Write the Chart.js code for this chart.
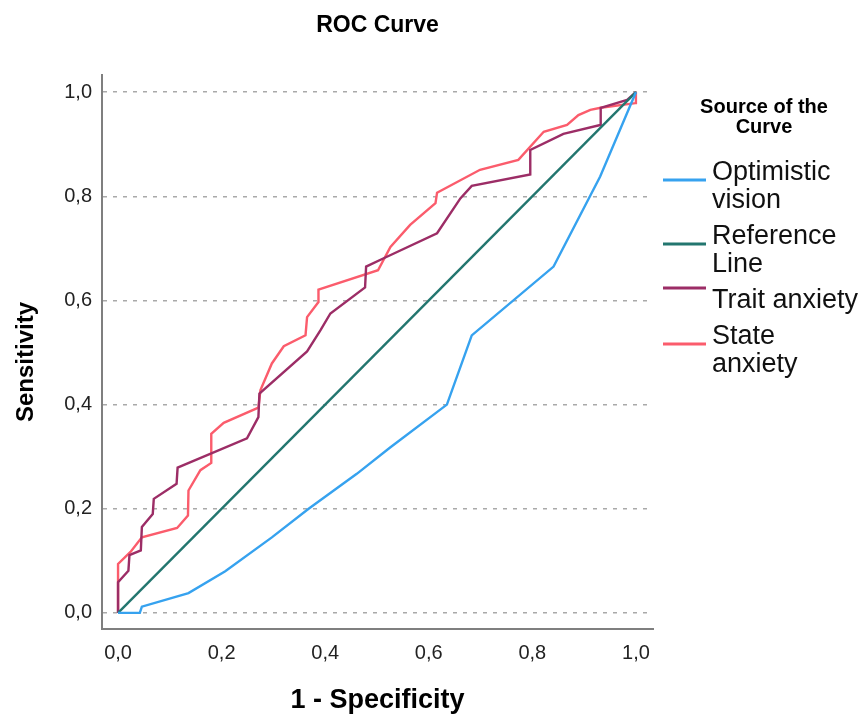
<!DOCTYPE html>
<html>
<head>
<meta charset="utf-8">
<title>ROC Curve</title>
<script src="https://cdn.jsdelivr.net/npm/chart.js@4.4.0/dist/chart.umd.min.js"></script>
<style>
    html, body { margin: 0; padding: 0; background: #ffffff; }
    #wrap { width: 866px; height: 716px; }
</style>
</head>
<body>
<div id="wrap"><canvas id="rocChart" width="866" height="716"></canvas></div>
<script>
// ROC curve data

const chartTitle = 'ROC Curve';
const xTitle = '1 - Specificity';
const yTitle = 'Sensitivity';
const legendTitle = ['Source of the', 'Curve'];

const curveNames = ['Optimistic vision', 'Reference Line', 'Trait anxiety', 'State anxiety'];
const legendLines = [['Optimistic', 'vision'], ['Reference', 'Line'], ['Trait anxiety'], ['State', 'anxiety']];
const curveColors = ['#36a2ef', '#23766f', '#9c2d66', '#fb5c6c'];

const tickValues = [0, 0.2, 0.4, 0.6, 0.8, 1.0];

const optimisticX = [0, 0.042, 0.046, 0.136, 0.207, 0.297, 0.368, 0.461, 0.526, 0.635, 0.683, 0.841, 0.931, 1];
const optimisticY = [0, 0, 0.012, 0.038, 0.080, 0.145, 0.200, 0.267, 0.318, 0.400, 0.533, 0.665, 0.838, 1];

const referenceX = [0, 1];
const referenceY = [0, 1];

const traitX = [0, 0, 0.020, 0.022, 0.044, 0.046, 0.067, 0.069, 0.113, 0.115,
    0.249, 0.271, 0.273, 0.365, 0.391, 0.410, 0.477, 0.479, 0.513, 0.616,
    0.661, 0.683, 0.796, 0.796, 0.860, 0.931, 0.932, 0.983, 1];
const traitY = [0, 0.059, 0.081, 0.111, 0.120, 0.165, 0.190, 0.219, 0.248, 0.279,
    0.335, 0.376, 0.421, 0.502, 0.543, 0.575, 0.625, 0.665, 0.681, 0.729,
    0.796, 0.820, 0.842, 0.889, 0.920, 0.937, 0.970, 0.985, 1];

const stateX = [0, 0, 0.024, 0.046, 0.114, 0.135, 0.136, 0.159, 0.180, 0.180,
    0.204, 0.271, 0.275, 0.297, 0.320, 0.362, 0.365, 0.387, 0.387, 0.502,
    0.526, 0.564, 0.613, 0.616, 0.699, 0.773, 0.822, 0.867, 0.889, 0.912,
    0.932, 0.999, 1];
const stateY = [0, 0.094, 0.117, 0.145, 0.163, 0.187, 0.235, 0.274, 0.288, 0.344,
    0.365, 0.394, 0.428, 0.479, 0.512, 0.533, 0.568, 0.597, 0.621, 0.658,
    0.703, 0.745, 0.787, 0.807, 0.851, 0.870, 0.924, 0.937, 0.956, 0.966,
    0.970, 0.979, 1];

const FONT = '"Liberation Sans", Arial, sans-serif';

function toPoints(xs, ys) {
    return xs.map((x, i) => ({ x: x, y: ys[i] }));
}

function commaLabel(value) {
    return value.toFixed(1).replace('.', ',');
}

const seriesX = [optimisticX, referenceX, traitX, stateX];
const seriesY = [optimisticY, referenceY, traitY, stateY];

const datasets = curveNames.map((name, i) => ({
    label: name,
    data: toPoints(seriesX[i], seriesY[i]),
    borderColor: curveColors[i],
    backgroundColor: curveColors[i],
    borderWidth: 2.4,
    showLine: true,
    pointRadius: 0,
    tension: 0
}));

// Title, axis titles and the SPSS style legend
const rocDecorations = {
    id: 'rocDecorations',
    afterDraw(chart) {
        const { ctx, chartArea } = chart;
        const midX = (chartArea.left + chartArea.right) / 2;
        ctx.save();
        ctx.fillStyle = '#000000';
        ctx.textBaseline = 'alphabetic';
        ctx.textAlign = 'center';

        ctx.font = 'bold 23px ' + FONT;
        ctx.fillText(chartTitle, midX, 32);

        ctx.font = 'bold 27px ' + FONT;
        ctx.fillText(xTitle, midX, 708);

        ctx.save();
        ctx.translate(33, 362);
        ctx.rotate(-Math.PI / 2);
        ctx.font = 'bold 24px ' + FONT;
        ctx.fillText(yTitle, 0, 0);
        ctx.restore();

        // legend
        ctx.font = 'bold 20px ' + FONT;
        ctx.fillText(legendTitle[0], 764, 113);
        ctx.fillText(legendTitle[1], 764, 133);

        ctx.textAlign = 'left';
        ctx.font = '27px ' + FONT;
        let y = 180;
        legendLines.forEach((lines, i) => {
            const sampleY = lines.length > 1 ? y : y - 20;
            ctx.strokeStyle = curveColors[i];
            ctx.lineWidth = 3;
            ctx.beginPath();
            ctx.moveTo(663, sampleY);
            ctx.lineTo(706, sampleY);
            ctx.stroke();
            ctx.fillStyle = '#111111';
            lines.forEach((line, j) => {
                ctx.fillText(line, 712, y + j * 28);
            });
            y += lines.length * 28 + 8;
        });
        ctx.restore();
    }
};

const axisCommon = {
    type: 'linear',
    min: -0.031,
    max: 1.033,
    afterBuildTicks: (scale) => {
        scale.ticks = tickValues.map(v => ({ value: v }));
    },
    border: {
        display: true,
        color: '#7f7f7f',
        width: 2,
        dash: [4, 6]
    }
};

const ctx = document.getElementById('rocChart');
const rocChart = new Chart(ctx, {
    type: 'scatter',
    data: { datasets: datasets },
    options: {
        responsive: false,
        animation: false,
        layout: {
            padding: { left: 0, right: 213, top: 75, bottom: 0 }
        },
        plugins: {
            legend: { display: false },
            title: { display: false },
            tooltip: { enabled: false }
        },
        scales: {
            x: Object.assign({}, axisCommon, {
                position: 'bottom',
                afterFit: (scale) => { scale.height = 87; },
                grid: { display: false, drawTicks: false },
                ticks: {
                    padding: 12,
                    maxRotation: 0,
                    color: '#222222',
                    font: { family: FONT, size: 20 },
                    callback: commaLabel
                }
            }),
            y: Object.assign({}, axisCommon, {
                position: 'left',
                afterFit: (scale) => { scale.width = 102; },
                grid: {
                    display: true,
                    drawTicks: false,
                    color: '#a9a9a9',
                    lineWidth: 1.5
                },
                ticks: {
                    padding: 10,
                    color: '#222222',
                    font: { family: FONT, size: 20 },
                    callback: commaLabel
                }
            })
        }
    },
    plugins: [rocDecorations]
});
</script>
</body>
</html>
